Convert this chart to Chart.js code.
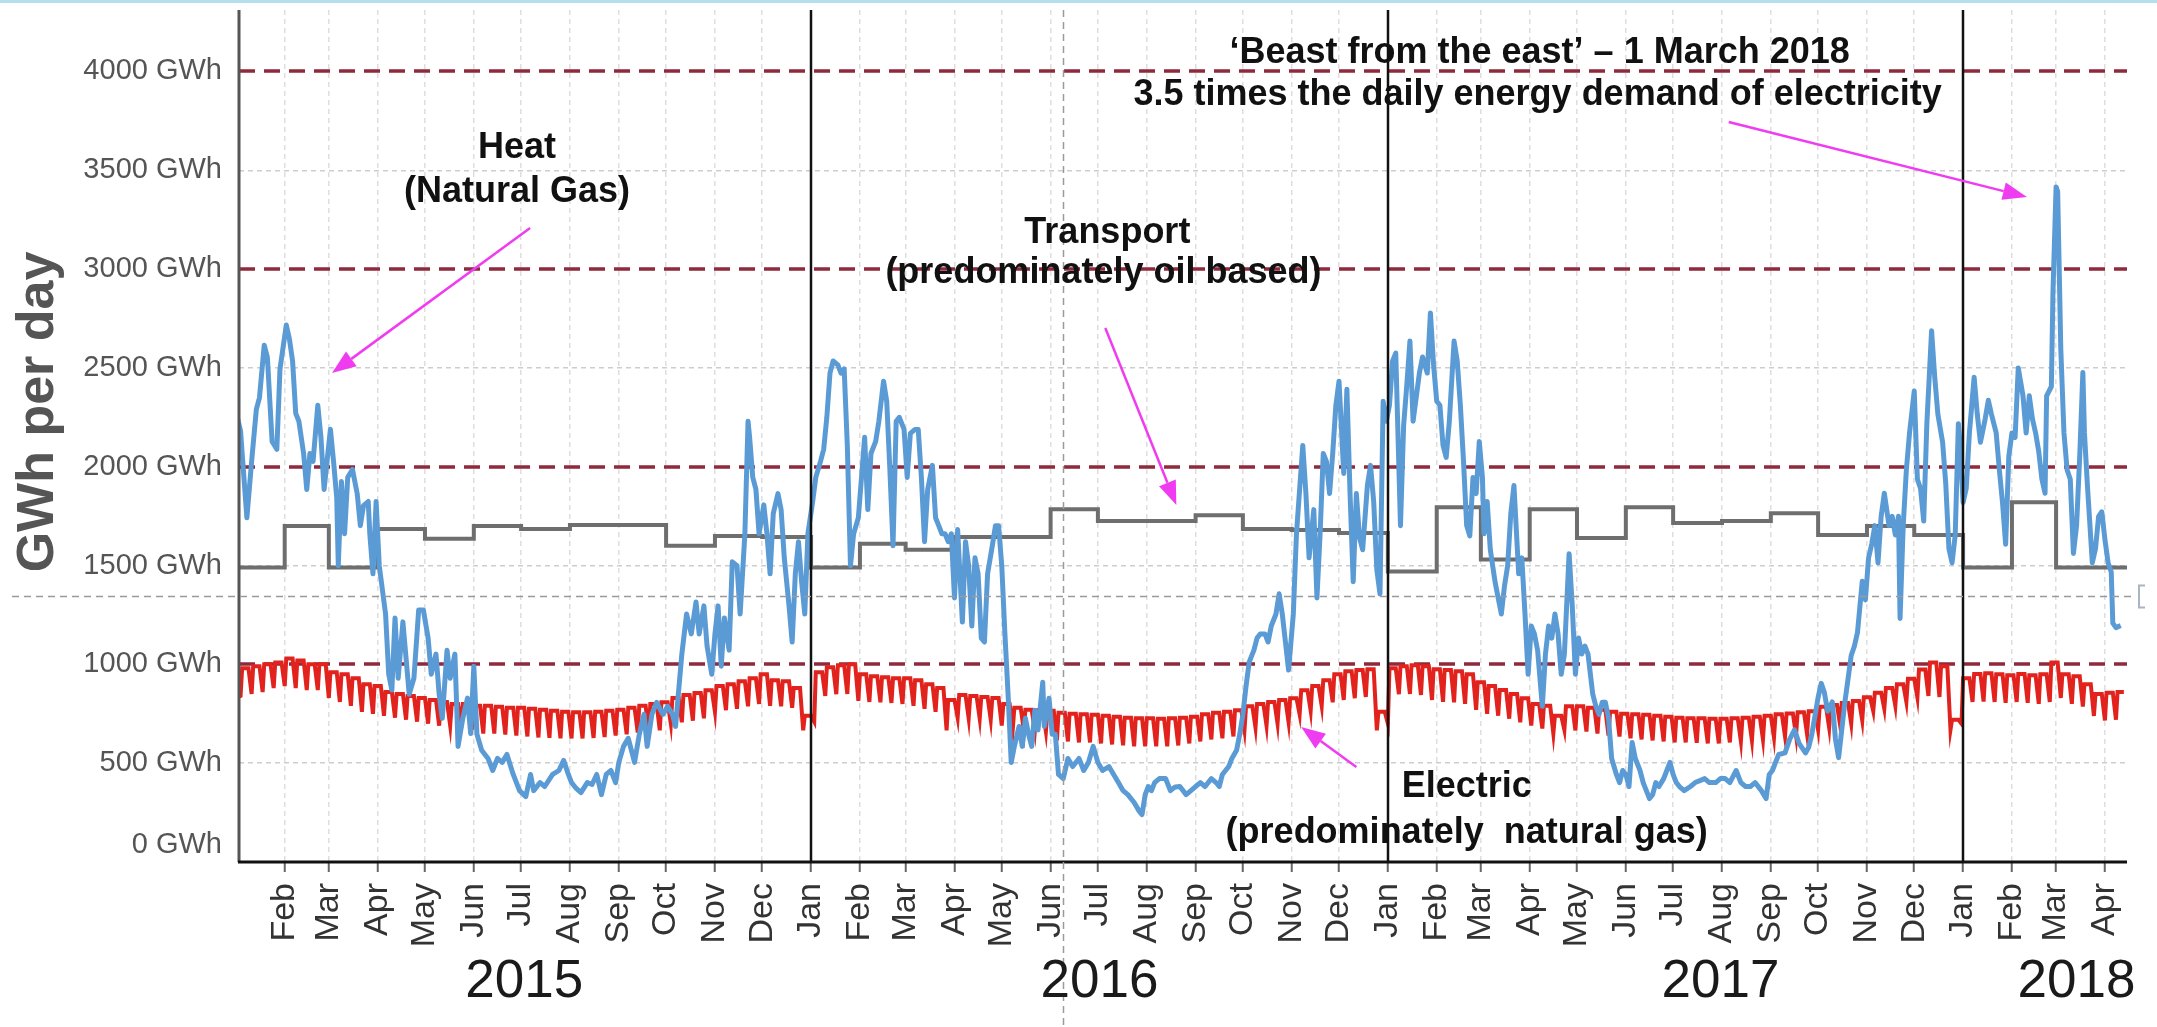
<!DOCTYPE html>
<html>
<head>
<meta charset="utf-8">
<script src="https://cdn.jsdelivr.net/npm/chart.js@4.4.1/dist/chart.umd.min.js"></script>
<style>
html,body{margin:0;padding:0;background:#fff;overflow:hidden}
canvas{display:block}
</style>
</head>
<body>
<canvas id="c" width="2157" height="1027"></canvas>
<script>
// x values: days since 1 January 2015
const monthNames = ['Jan','Feb','Mar','Apr','May','Jun','Jul','Aug','Sep','Oct','Nov','Dec'];
const yTickValues = [0,500,1000,1500,2000,2500,3000,3500,4000];
const limitLines = [1000,2000,3000,4000];
const yearLabels = ['2015','2016','2017','2018'];
const yearLabelDays = [183,548,942,1168];
const yearStartDays = [365,731,1096];

// Heat (natural gas) – [day, GWh]
const heatReadings = [
[0,2280],[3,2180],[4,2067],[7,1742],[10,2026],[13,2290],[15,2350],[18,2615],[20,2555],[23,2128],[26,2088],[28,2494],[32,2717],[34,2646],[36,2535],[38,2270],[40,2230],[43,2067],[45,1885],[47,2067],[49,2027],[52,2311],[54,2149],[56,1885],[60,2190],[62,2027],[64,1844],[65,1499],[67,1925],[69,1661],[71,1946],[74,1986],[77,1864],[79,1702],[81,1803],[84,1824],[85,1661],[87,1458],[89,1824],[91,1499],[95,1255],[97,950],[99,870],[101,1235],[103,930],[106,1215],[110,849],[113,930],[116,1275],[119,1275],[122,1133],[124,950],[127,1052],[129,849],[131,727],[134,1072],[136,930],[139,1052],[141,585],[144,727],[147,829],[149,650],[151,991],[153,646],[156,565],[160,524],[163,463],[166,524],[169,504],[172,544],[176,443],[180,361],[184,331],[187,443],[189,361],[193,402],[196,382],
[201,443],[205,463],[208,514],[211,443],[213,402],[216,372],[219,351],[223,402],[226,392],[229,443],[232,341],[235,443],[238,463],[241,402],[243,504],[246,585],[249,626],[253,504],[256,646],[259,747],[261,585],[264,747],[267,808],[271,747],[274,788],[277,747],[279,686],[281,869],[283,1052],[286,1255],[289,1154],[292,1316],[294,1154],[297,1296],[299,1093],[302,950],[304,1154],[306,1296],[308,991],[310,1235],[313,1072],[315,1519],[318,1499],[320,1255],[323,1661],[325,2230],[326,2149],[328,1946],[330,1885],[332,1661],[335,1807],[337,1661],[339,1458],[341,1763],[344,1864],[346,1783],[348,1539],[351,1296],[353,1113],[355,1458],[357,1621],[359,1418],[361,1255],[363,1661],[366,1824],[368,1946],[371,2027],[373,2088],[375,2250],[377,2474],[379,2535],[382,2515],[384,2474],[386,2495],[388,2108],[390,1499],[392,1661],
[395,1742],[397,1946],[399,2149],[401,1783],[403,2067],[406,2128],[408,2230],[411,2433],[413,2331],[415,1986],[417,1600],[419,2230],[421,2250],[424,2189],[426,1946],[428,2169],[431,2189],[433,2189],[435,1946],[437,1621],[439,1885],[442,2007],[444,1742],[446,1702],[448,1661],[450,1661],[452,1621],[454,1661],[456,1336],[458,1682],[461,1214],[463,1621],[465,1499],[467,1194],[469,1539],[471,1458],[473,1133],[475,1113],[477,1458],[480,1600],[482,1702],[484,1702],[486,1499],[488,1154],[490,849],[492,504],[494,585],[497,686],[499,585],[501,727],[503,646],[505,585],[507,768],[509,668],[512,910],[513,686],[516,829],[518,646],[520,646],[522,443],[525,422],[528,524],[531,483],[535,524],[538,463],[541,504],[544,585],[547,504],[550,463],[554,483],[557,443],[560,402],[563,361],[566,341],[570,301],[573,260],[575,240],[577,341],[579,382],[581,361],[583,402],[586,422],[590,422],
[593,361],[596,380],[599,382],[603,341],[606,361],[609,382],[612,402],[615,382],[619,422],[622,402],[624,382],[626,443],[628,463],[630,483],[632,524],[635,565],[637,646],[639,747],[641,889],[643,1011],[646,1072],[648,1133],[650,1154],[653,1154],[655,1113],[657,1194],[660,1255],[662,1357],[664,1255],[666,1113],[668,971],[671,1255],[673,1661],[675,1885],[677,2108],[679,1864],[681,1539],[684,1783],[686,1336],[688,1661],[690,2067],[692,2027],[694,1864],[696,2067],[698,2311],[700,2433],[703,1966],[705,2392],[707,1864],[709,1418],[711,1864],[713,1641],[715,1580],[718,1905],[720,2007],[722,1824],[724,1478],[726,1357],[728,2331],[730,2230],[732,2311],[734,2535],[736,2575],[739,1702],[741,2209],[743,2413],[745,2636],[747,2230],[749,2352],[751,2474],[753,2555],[756,2474],[758,2778],[760,2515],[762,2331],[764,2311],[766,2108],[768,2047],[770,2230],[773,2636],[775,2535],[777,2311],[779,2027],[781,1702],[783,1650],[785,1946],[787,1864],[789,2128],[791,1946],
[792,1661],[794,1824],[796,1580],[799,1418],[801,1336],[803,1255],[805,1397],[807,1499],[809,1763],[811,1905],[814,1458],[816,1539],[818,1255],[820,950],[822,1194],[824,1154],[826,1072],[829,788],[831,1052],[833,1194],[835,1133],[837,1255],[839,1154],[841,950],[843,1052],[846,1560],[848,1296],[850,950],[852,1133],[854,1052],[856,1093],[858,1052],[861,849],[863,788],[865,747],[867,808],[869,808],[871,727],[873,524],[876,443],[878,402],[880,463],[882,443],[884,382],[886,605],[888,524],[891,463],[893,402],[895,361],[897,321],[899,341],[901,402],[903,382],[906,422],[908,463],[910,504],[912,443],[914,402],[916,382],[919,361],[923,382],[926,402],[929,412],[932,422],[935,402],[939,402],[942,422],[945,422],[948,402],[952,463],[955,402],[958,382],[961,382],[964,402],[968,361],[971,321],[973,443],[975,463],[977,504],[979,544],
[983,552],[986,622],[989,669],[992,599],[996,552],[998,580],[1000,646],[1002,739],[1004,833],[1006,904],[1008,857],[1010,763],[1013,810],[1015,622],[1017,528],[1019,669],[1021,810],[1023,927],[1025,1045],[1027,1092],[1029,1162],[1032,1420],[1034,1326],[1036,1538],[1038,1608],[1040,1702],[1042,1514],[1044,1749],[1046,1866],[1049,1702],[1051,1749],[1053,1655],[1055,1749],[1056,1232],[1058,1702],[1060,1984],[1062,2171],[1065,2383],[1067,1937],[1069,1890],[1071,1725],[1073,2218],[1076,2688],[1078,2453],[1080,2265],[1083,2124],[1085,1913],[1087,1585],[1089,1514],[1091,1655],[1093,2218],[1094,2124],[1096,1819],[1098,1890],[1100,2171],[1103,2453],[1105,2265],[1107,2124],[1110,2242],[1112,2336],[1114,2265],[1117,2171],[1119,1984],[1121,1819],[1123,1608],[1125,2054],[1127,2171],[1129,2148],[1131,2500],[1134,2359],[1136,2171],[1138,2359],[1140,2242],[1142,2171],[1144,2077],[1146,1937],[1148,1866],[1149,2359],[1152,2406],[1153,2876],[1155,3416],[1156,3392],[1158,2594],[1160,2171],[1162,1984],[1164,1937],[1166,1561],[1168,1702],[1170,2054],[1172,2477],[1173,2171],[1175,1890],[1178,1514],[1180,1585],[1182,1749],[1184,1772],[1186,1632],[1188,1514],[1190,1467],[1191,1209],[1193,1186],[1196,1197]
];

// Electric – weekday level and weekend level, one pair per week (weeks start Sunday 4 Jan 2015)
const elecJan1 = 830;
const elecPeak = [
980,990,1000,1010,1030,1020,1000,1000,960,950,
930,900,890,860,850,840,830,820,810,800,
800,790,790,785,780,780,775,770,765,760,
758,758,760,765,770,780,790,800,808,830,
845,855,869,890,900,915,930,950,920,915,
880,740,960,985,995,1000,950,940,935,930,
930,920,900,880,820,845,840,835,830,800,
780,770,768,765,755,750,747,745,740,735,
730,727,727,725,727,730,735,747,755,760,
768,788,800,810,820,829,869,890,920,950,
965,971,975,760,980,991,995,990,975,971,
965,950,910,890,870,850,829,800,790,740,
788,788,780,770,760,750,747,745,740,735,
730,727,727,725,725,727,730,735,740,747,
752,758,763,786,795,805,815,833,857,880,
900,927,974,1009,990,720,930,951,955,950,
945,951,945,950,1009,950,940,900,850,857,
860];
const elecTrough = [
840,850,860,880,890,880,870,870,830,810,
790,760,750,740,730,720,710,700,690,690,
680,670,650,650,645,640,635,630,628,626,
625,625,628,632,640,646,655,660,666,700,
707,715,727,760,768,775,788,800,790,788,
780,666,710,840,849,850,815,810,808,805,
800,790,775,760,666,730,727,725,720,690,
675,666,666,660,615,610,605,605,600,595,
590,585,585,585,585,590,600,610,620,626,
635,666,680,690,700,707,747,765,790,808,
820,829,835,666,700,849,850,845,820,810,
808,800,770,750,740,725,707,690,675,650,
668,666,660,650,640,635,626,620,615,610,
605,605,603,600,600,605,610,615,620,630,
635,640,646,669,680,690,700,716,763,775,
790,810,833,840,835,669,700,810,812,810,
805,810,805,800,810,830,800,786,739,716,
720];

// Transport – monthly level, Jan 2015 .. Apr 2018
const transportMonthly = [
1490,1700,1490,1685,1635,1700,1685,1705,1705,1600,1650,1645,
1490,1610,1580,1645,1645,1785,1725,1725,1755,1685,1680,1665,
1470,1795,1530,1785,1640,1795,1715,1725,1765,1655,1700,1655,
1490,1820,1490,1490];

const X_MIN = 2, X_MAX = 1200;
const crosshairDay = 525, crosshairValue = 1348;

// month start days (tick positions) from the calendar
const DAY = 86400000, T0 = Date.UTC(2015,0,1);
const monthStarts = [], monthStartLabels = [];
for (let yy = 2015, mm = 0; yy < 2018 || (yy === 2018 && mm <= 3); ) {
  monthStarts.push((Date.UTC(yy,mm,1) - T0) / DAY);
  monthStartLabels.push(monthNames[mm]);
  mm++; if (mm > 11) { mm = 0; yy++; }
}
const tickDays = monthStarts.slice(1);
const tickLabels = monthStartLabels.slice(1);

const heatData = heatReadings.map(([d, v]) => ({x: d, y: v}));
// weekday level held Monday..Friday, weekend level on Sunday
const elecData = [{x: 0, y: elecJan1}];
elecPeak.forEach((p, k) => {
  elecData.push({x: 3 + 7*k, y: elecTrough[k]});
  elecData.push({x: 4 + 7*k, y: p});
  elecData.push({x: 8 + 7*k, y: p});
});
const transportData = transportMonthly.map((v, i) => ({x: monthStarts[i], y: v}));
transportData.push({x: X_MAX, y: transportMonthly[transportMonthly.length - 1]});

const FONT = "'Liberation Sans', Arial, Helvetica, sans-serif";

const notes = [
  {t:'Heat', d:178.4, v:3613},
  {t:'(Natural Gas)', d:178.4, v:3390},
  {t:'Transport', d:553, v:3183},
  {t:'(predominately oil based)', d:550.5, v:2980},
  {t:'\u2018Beast from the east\u2019 \u2013 1 March 2018', d:827.3, v:4095},
  {t:'3.5 times the daily energy demand of electricity', d:826, v:3878},
  {t:'Electric', d:781, v:380},
  {t:'(predominately  natural gas)', d:781, v:147}
];
const arrows = [
  {from:[186.7,3208], to:[61,2474]},
  {from:[551.7,2702], to:[596.8,1806]},
  {from:[947.3,3744], to:[1136.5,3365]},
  {from:[711,481], to:[676,683]}
];

function drawArrow(ctx, x1, y1, x2, y2) {
  const ang = Math.atan2(y2 - y1, x2 - x1), L = 24, W = 9;
  const bx = x2 - L*Math.cos(ang), by = y2 - L*Math.sin(ang);
  ctx.strokeStyle = '#f03cf0'; ctx.fillStyle = '#f03cf0';
  ctx.lineWidth = 2.5; ctx.setLineDash([]);
  ctx.beginPath(); ctx.moveTo(x1, y1); ctx.lineTo(bx, by); ctx.stroke();
  ctx.beginPath(); ctx.moveTo(x2, y2);
  ctx.lineTo(bx - W*Math.sin(ang), by + W*Math.cos(ang));
  ctx.lineTo(bx + W*Math.sin(ang), by - W*Math.cos(ang));
  ctx.closePath(); ctx.fill();
}

const decor = {
  id: 'decor',
  beforeDatasetsDraw(chart) {
    const {ctx, chartArea: a, scales: {y}} = chart;
    ctx.save();
    ctx.strokeStyle = '#8e2a3b'; ctx.lineWidth = 3.5; ctx.setLineDash([16, 9]);
    limitLines.forEach(v => {
      const py = Math.round(y.getPixelForValue(v));
      ctx.beginPath(); ctx.moveTo(a.left, py); ctx.lineTo(a.right, py); ctx.stroke();
    });
    ctx.restore();
  },
  afterDatasetsDraw(chart) {
    const {ctx, chartArea: a, scales: {x, y}} = chart;
    ctx.save();
    // year boundary lines
    ctx.strokeStyle = '#111'; ctx.lineWidth = 2.5; ctx.setLineDash([]);
    yearStartDays.forEach(d => {
      const px = Math.round(x.getPixelForValue(d));
      ctx.beginPath(); ctx.moveTo(px, a.top); ctx.lineTo(px, a.bottom); ctx.stroke();
    });
    // axis lines
    ctx.strokeStyle = '#555'; ctx.lineWidth = 3;
    ctx.beginPath(); ctx.moveTo(a.left, a.top); ctx.lineTo(a.left, a.bottom); ctx.stroke();
    ctx.strokeStyle = '#111';
    ctx.beginPath(); ctx.moveTo(a.left - 1, a.bottom); ctx.lineTo(a.right, a.bottom); ctx.stroke();
    // crosshair
    ctx.strokeStyle = '#9a9a9a'; ctx.lineWidth = 1.5; ctx.setLineDash([7, 5]);
    const cx = Math.round(x.getPixelForValue(crosshairDay)) + 0.5;
    const cy = Math.round(y.getPixelForValue(crosshairValue)) + 0.5;
    ctx.beginPath(); ctx.moveTo(cx, a.top); ctx.lineTo(cx, chart.height); ctx.stroke();
    ctx.beginPath(); ctx.moveTo(12, cy); ctx.lineTo(a.right + 7, cy); ctx.stroke();
    ctx.setLineDash([]); ctx.strokeStyle = '#a9b4c4'; ctx.lineWidth = 2;
    ctx.beginPath(); ctx.moveTo(a.right + 18, cy - 11); ctx.lineTo(a.right + 12, cy - 11);
    ctx.lineTo(a.right + 12, cy + 11); ctx.lineTo(a.right + 18, cy + 11); ctx.stroke();
    // year labels
    ctx.fillStyle = '#1a1a1a'; ctx.font = '53px ' + FONT;
    ctx.textAlign = 'center'; ctx.textBaseline = 'middle';
    yearLabels.forEach((t, i) => ctx.fillText(t, x.getPixelForValue(yearLabelDays[i]), a.bottom + 120));
    // axis title
    ctx.save();
    ctx.translate(39, 412); ctx.rotate(-Math.PI / 2);
    ctx.fillStyle = '#555'; ctx.font = 'bold 52px ' + FONT;
    ctx.fillText('GWh per day', 0, 0);
    ctx.restore();
    // annotations
    ctx.fillStyle = '#111'; ctx.font = 'bold 36px ' + FONT;
    notes.forEach(n => ctx.fillText(n.t, x.getPixelForValue(n.d), y.getPixelForValue(n.v)));
    arrows.forEach(r => drawArrow(ctx,
      x.getPixelForValue(r.from[0]), y.getPixelForValue(r.from[1]),
      x.getPixelForValue(r.to[0]), y.getPixelForValue(r.to[1])));
    // top frame line
    ctx.fillStyle = '#b3e0ec'; ctx.fillRect(0, 0, chart.width, 3);
    ctx.restore();
  }
};

new Chart(document.getElementById('c'), {
  type: 'line',
  data: {
    datasets: [
      {label: 'Heat', data: heatData, borderColor: '#5b9bd5', borderWidth: 5, pointRadius: 0, tension: 0, borderJoinStyle: 'round'},
      {label: 'Electric', data: elecData, borderColor: '#e2231d', borderWidth: 4, pointRadius: 0, tension: 0},
      {label: 'Transport', data: transportData, borderColor: '#6e6e6e', borderWidth: 4, pointRadius: 0, stepped: 'before'}
    ]
  },
  options: {
    responsive: false, animation: false, devicePixelRatio: 1,
    layout: {padding: {left: 0, right: 30, top: 10, bottom: 0}},
    plugins: {legend: {display: false}, tooltip: {enabled: false}},
    scales: {
      x: {
        type: 'linear', min: X_MIN, max: X_MAX,
        afterFit: s => { s.height = 165; s.paddingLeft = 0; s.paddingRight = 0; },
        afterBuildTicks: s => { s.ticks = tickDays.map(v => ({value: v})); },
        ticks: {autoSkip: false, minRotation: 90, maxRotation: 90, padding: 11, color: '#333',
                font: {family: FONT, size: 34}, callback: (v, i) => tickLabels[i]},
        grid: {color: '#dedede', lineWidth: 1.5, drawTicks: true, tickLength: 10, tickColor: '#666', tickWidth: 2},
        border: {display: false, dash: [5, 4]}
      },
      y: {
        min: 0, max: 4311,
        afterFit: s => { s.width = 239; s.paddingTop = 0; s.paddingBottom = 0; },
        afterBuildTicks: s => { s.ticks = yTickValues.map(v => ({value: v})); },
        ticks: {padding: 17, color: '#555', font: {family: FONT, size: 29},
                callback: v => v === 0 ? [v + ' GWh', ''] : v + ' GWh'},
        grid: {color: c => (c.tick && c.tick.value % 1000 === 500) ? '#cdcdcd' : 'rgba(0,0,0,0)', lineWidth: 1.5, drawTicks: false},
        border: {display: false, dash: [5, 4]}
      }
    }
  },
  plugins: [decor]
});
</script>
</body>
</html>
